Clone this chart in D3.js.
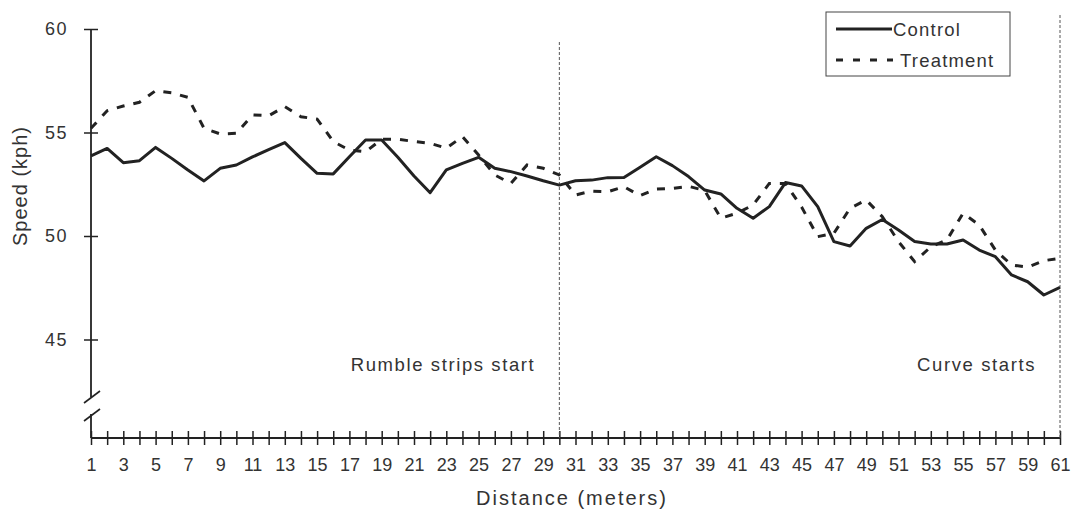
<!DOCTYPE html>
<html><head><meta charset="utf-8">
<script src="https://cdn.jsdelivr.net/npm/d3@7"></script>
<style>
body{margin:0;background:#fff;}
svg text{font-family:"Liberation Sans",Arial,Helvetica,sans-serif;fill:#333;}
</style></head>
<body><svg id="c" width="1076" height="511"></svg>
<script>
const distance = d3.range(1, 62);
const control = [53.87,54.23,53.54,53.64,54.28,53.75,53.19,52.66,53.27,53.43,
  53.82,54.17,54.51,53.75,53.03,53.0,53.83,54.64,54.64,53.8,
  52.9,52.09,53.19,53.51,53.8,53.27,53.11,52.9,52.67,52.46,
  52.67,52.7,52.82,52.83,53.32,53.83,53.4,52.87,52.22,52.03,
  51.34,50.86,51.42,52.58,52.42,51.42,49.73,49.52,50.37,50.8,
  50.29,49.73,49.61,49.61,49.81,49.32,49.0,48.12,47.79,47.15,47.52];
const treatment = [55.2,56.05,56.28,56.46,57.02,56.92,56.7,55.2,54.93,54.96,
  55.85,55.81,56.25,55.76,55.65,54.56,54.15,54.07,54.67,54.67,
  54.57,54.48,54.24,54.8,53.91,52.95,52.54,53.43,53.27,52.95,
  51.98,52.17,52.14,52.38,51.95,52.27,52.3,52.4,52.2,50.86,
  51.1,51.5,52.54,52.54,51.4,49.97,50.13,51.34,51.74,50.93,
  49.73,48.76,49.48,49.81,51.1,50.53,49.32,48.6,48.49,48.81,48.92];
const yTicks = [45, 50, 55, 60];
const markers = [{at: 30, label: "Rumble strips start"}, {at: 61, label: "Curve starts"}];
const seriesNames = ["Control", "Treatment"];

const svg = d3.select("#c");
const x = d3.scaleLinear().domain([1, 61]).range([91, 1060]);
const y = d3.scaleLinear().domain([45, 60]).range([339.5, 29]);
const axisY = 438;
const ink = "#222";
const FONT = "Liberation Sans, Arial, sans-serif";

// y axis
const ya = svg.append("g").attr("transform", "translate(91,0)")
  .call(d3.axisLeft(y).tickValues(yTicks).tickSize(7).tickPadding(16));
ya.select(".domain").remove();
ya.selectAll(".tick line").attr("x1", -7).attr("x2", 7).attr("stroke", ink).attr("stroke-width", 1.5);
ya.selectAll(".tick text").attr("font-size", 18).attr("letter-spacing", 1.5).attr("fill", "#333").attr("font-family", FONT);
// y axis line with break
svg.append("line").attr("x1", 91).attr("x2", 91).attr("y1", y(60)).attr("y2", 397).attr("stroke", ink).attr("stroke-width", 1.8);
svg.append("line").attr("x1", 91).attr("x2", 91).attr("y1", 414).attr("y2", axisY).attr("stroke", ink).attr("stroke-width", 1.8);
svg.append("line").attr("x1", 84).attr("x2", 100).attr("y1", 403).attr("y2", 391).attr("stroke", ink).attr("stroke-width", 1.6);
svg.append("line").attr("x1", 84).attr("x2", 100).attr("y1", 421).attr("y2", 409).attr("stroke", ink).attr("stroke-width", 1.6);

// x axis
const xa = svg.append("g").attr("transform", `translate(0,${axisY})`)
  .call(d3.axisBottom(x).tickValues(distance).tickSize(7).tickPadding(13)
    .tickFormat(d => d % 2 === 1 ? d : ""));
xa.select(".domain").attr("stroke", ink).attr("stroke-width", 1.8).attr("d", `M91,0H1060`);
xa.selectAll(".tick line").attr("y1", -7).attr("y2", 7).attr("stroke", ink).attr("stroke-width", 1.5);
xa.selectAll(".tick text").attr("font-size", 18).attr("fill", "#333").attr("font-family", FONT);

// markers
svg.selectAll(".marker").data(markers).enter().append("line")
  .attr("x1", d => x(d.at)).attr("x2", d => x(d.at))
  .attr("y1", (d, i) => i === 0 ? 42 : 15).attr("y2", axisY)
  .attr("stroke", "#555").attr("stroke-width", 1).attr("stroke-dasharray", "3,2");
svg.selectAll(".mlabel").data(markers).enter().append("text")
  .attr("x", d => x(d.at) - 24).attr("y", 371).attr("text-anchor", "end")
  .attr("font-size", 18.5).attr("letter-spacing", 1.6).text(d => d.label);

// lines
const line = d3.line().x((d, i) => x(distance[i])).y(d => y(d));
svg.append("path").datum(control).attr("d", line).attr("fill", "none")
  .attr("stroke", ink).attr("stroke-width", 3).attr("stroke-linejoin", "round");
svg.append("path").datum(treatment).attr("d", line).attr("fill", "none")
  .attr("stroke", ink).attr("stroke-width", 3).attr("stroke-dasharray", "8,9");

// axis titles
svg.append("text").attr("x", 572).attr("y", 505).attr("text-anchor", "middle")
  .attr("font-size", 20).attr("letter-spacing", 2).text("Distance (meters)");
svg.append("text").attr("transform", "translate(27,186) rotate(-90)").attr("text-anchor", "middle")
  .attr("font-size", 20).attr("letter-spacing", 1).text("Speed (kph)");

// legend
const lg = svg.append("g");
lg.append("rect").attr("x", 826).attr("y", 12).attr("width", 184).attr("height", 64)
  .attr("fill", "#fff").attr("stroke", "#444").attr("stroke-width", 1);
const legendRows = [{name: seriesNames[0], dash: null, ly: 29}, {name: seriesNames[1], dash: "7,10", ly: 60}];
legendRows.forEach(r => {
  lg.append("line").attr("x1", 836).attr("x2", r.dash ? 893 : 892).attr("y1", r.ly).attr("y2", r.ly)
    .attr("stroke", ink).attr("stroke-width", 3).attr("stroke-dasharray", r.dash);
  lg.append("text").attr("x", r.dash ? 900 : 893).attr("y", r.ly + 7).attr("font-size", 18.5)
    .attr("letter-spacing", 1.2).text(r.name);
});
</script></body></html>
